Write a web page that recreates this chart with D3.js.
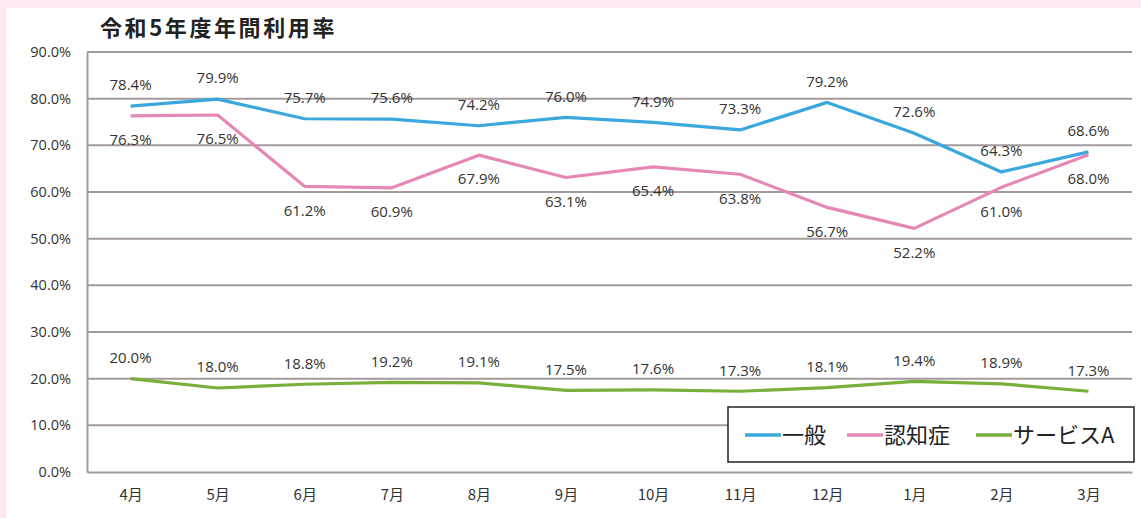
<!DOCTYPE html>
<html><head><meta charset="utf-8">
<script src="https://cdn.jsdelivr.net/npm/d3@7"></script>
<style>
html,body{margin:0;padding:0;background:#fce9f4;}
svg{display:block;}
</style></head><body>
<svg id="chart" width="1141" height="518"></svg>
<script>
const title = "令和5年度年間利用率";
const months = ["4月","5月","6月","7月","8月","9月","10月","11月","12月","1月","2月","3月"];
const seriesNames = ["一般","認知症","サービスA"];
const general = [78.4,79.9,75.7,75.6,74.2,76.0,74.9,73.3,79.2,72.6,64.3,68.6];
const dementia = [76.3,76.5,61.2,60.9,67.9,63.1,65.4,63.8,56.7,52.2,61.0,68.0];
const serviceA = [20.0,18.0,18.8,19.2,19.1,17.5,17.6,17.3,18.1,19.4,18.9,17.3];
const yTicks = [0,10,20,30,40,50,60,70,80,90];

const colors = ["#3aa8dd","#e688b6","#7aaf3c"];
const labelPos = ["above","below","above"];
const seriesData = [general, dementia, serviceA];

const svg = d3.select("#chart");
svg.append("rect").attr("x",6).attr("y",8).attr("width",1141-6).attr("height",518-8).attr("fill","#ffffff");

const mLeft = 87, mRight = 1132, mTop = 52, mBottom = 472;
const x = d3.scalePoint().domain(months).range([mLeft, mRight]).padding(0.5);
const y = d3.scaleLinear().domain([0,90]).range([mBottom, mTop]);

const font = "'Noto Sans CJK JP','Noto Sans',sans-serif";
const numFont = "'Open Sans','Noto Sans',sans-serif";

svg.append("text").attr("x",100).attr("y",36).attr("font-family",font)
  .attr("font-weight","bold").attr("font-size",22).attr("letter-spacing",2.6)
  .attr("fill","#222").text(title);

// gridlines
svg.append("g").selectAll("line").data(yTicks.filter(d=>d>0)).join("line")
  .attr("x1",mLeft).attr("x2",mRight).attr("y1",d=>y(d)).attr("y2",d=>y(d))
  .attr("stroke","#a39b9b").attr("stroke-width",2);

// axes
const yAxis = d3.axisLeft(y).tickValues(yTicks).tickSize(0).tickPadding(16)
  .tickFormat(d=>d3.format(".1f")(d)+"%");
const gy = svg.append("g").attr("transform",`translate(${mLeft},0)`).call(yAxis);
gy.select(".domain").attr("stroke","#a39b9b").attr("stroke-width",2);
gy.selectAll("text").attr("font-family",numFont).attr("font-size",14.5).attr("fill","#333");

const xAxis = d3.axisBottom(x).tickSize(0).tickPadding(17);
const gx = svg.append("g").attr("transform",`translate(0,${mBottom})`).call(xAxis);
gx.select(".domain").attr("stroke","#a39b9b").attr("stroke-width",2);
gx.selectAll("text").attr("font-family",font).attr("font-size",15).attr("fill","#333");

// lines
const line = d3.line().x((d,i)=>x(months[i])).y(d=>y(d));
seriesData.forEach((s,k)=>{
  svg.append("path").datum(s).attr("d",line).attr("fill","none")
    .attr("stroke",colors[k]).attr("stroke-width",3.2).attr("stroke-linejoin","round");
});
// labels
seriesData.forEach((s,k)=>{
  svg.append("g").selectAll("text").data(s).join("text")
    .attr("x",(d,i)=>x(months[i]))
    .attr("y",d=> labelPos[k]==="above" ? y(d)-21 : y(d)+24)
    .attr("dy","0.35em").attr("text-anchor","middle")
    .attr("font-family",numFont).attr("font-size",15)
    .attr("fill","#333").text(d=>d3.format(".1f")(d)+"%");
});

// legend
const lg = svg.append("g");
lg.append("rect").attr("x",728).attr("y",407).attr("width",406).attr("height",55)
  .attr("fill","#fff").attr("stroke","#222").attr("stroke-width",1.5);
const legX = [745, 847, 976];
seriesNames.forEach((n,k)=>{
  lg.append("line").attr("x1",legX[k]).attr("x2",legX[k]+36).attr("y1",435).attr("y2",435)
    .attr("stroke",colors[k]).attr("stroke-width",3.5);
  lg.append("text").attr("x",legX[k]+37).attr("y",435).attr("dy","0.35em")
    .attr("font-family",font).attr("font-size",22).attr("fill","#222").text(n);
});
</script>
</body></html>
